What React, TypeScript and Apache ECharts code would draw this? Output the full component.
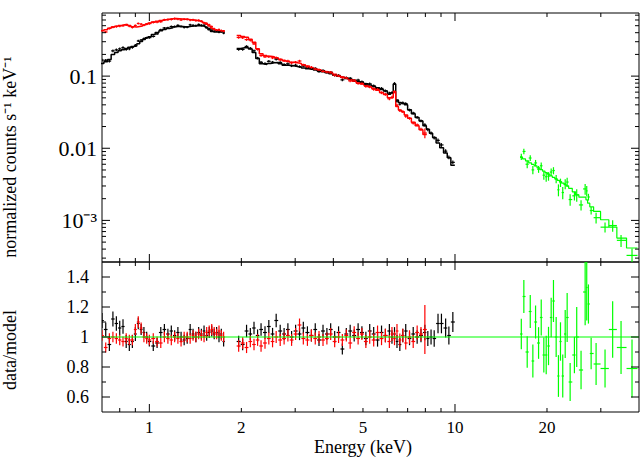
import { useEffect, useRef } from 'react';
import * as echarts from 'echarts';

// ---------- data ----------
// Low-energy segment (keV), shared by black and red spectra
const lowE = [0.70, 0.72, 0.74, 0.76, 0.78, 0.80, 0.82, 0.84, 0.86, 0.88, 0.90, 0.92, 0.94, 0.96, 0.98, 1.00, 1.03, 1.06, 1.09, 1.12, 1.15, 1.18, 1.21, 1.24, 1.27, 1.30, 1.33, 1.36, 1.39, 1.42, 1.45, 1.48, 1.51, 1.54, 1.57, 1.60, 1.63, 1.66, 1.69, 1.72, 1.75];
const blackModelLow = [0.150, 0.158, 0.170, 0.200, 0.212, 0.225, 0.232, 0.242, 0.252, 0.258, 0.262, 0.282, 0.302, 0.322, 0.340, 0.352, 0.378, 0.402, 0.425, 0.443, 0.458, 0.468, 0.482, 0.490, 0.488, 0.485, 0.482, 0.490, 0.496, 0.500, 0.505, 0.497, 0.488, 0.470, 0.440, 0.415, 0.408, 0.410, 0.408, 0.410, 0.405];
const blackRatioLow = [1.11, 1.05, 0.95, 1.12, 1.09, 1.06, 1.07, 0.97, 0.95, 0.97, 1.02, 1.09, 1.05, 1.03, 1.00, 0.97, 0.94, 0.96, 1.03, 1.05, 1.02, 1.04, 1.01, 1.03, 1.00, 0.98, 0.99, 1.05, 1.02, 1.00, 1.03, 1.02, 1.04, 1.01, 1.03, 1.04, 1.02, 1.03, 1.00, 1.02, 0.97];
const blackErrLow = [0.045, 0.045, 0.045, 0.045, 0.045, 0.045, 0.045, 0.045, 0.045, 0.045, 0.045, 0.035, 0.035, 0.035, 0.035, 0.035, 0.035, 0.035, 0.035, 0.035, 0.035, 0.035, 0.035, 0.035, 0.035, 0.035, 0.035, 0.035, 0.035, 0.035, 0.035, 0.035, 0.035, 0.035, 0.035, 0.035, 0.035, 0.035, 0.035, 0.035, 0.035];
const redModelLow = [0.425, 0.440, 0.462, 0.478, 0.492, 0.505, 0.515, 0.518, 0.505, 0.485, 0.480, 0.488, 0.496, 0.510, 0.530, 0.545, 0.562, 0.578, 0.592, 0.605, 0.615, 0.625, 0.628, 0.625, 0.620, 0.615, 0.612, 0.605, 0.598, 0.590, 0.582, 0.570, 0.548, 0.522, 0.495, 0.462, 0.440, 0.428, 0.425, 0.423, 0.422];
const redRatioLow = [1.01, 0.93, 0.99, 1.00, 0.99, 0.98, 0.97, 0.99, 0.98, 0.98, 1.05, 1.10, 1.06, 1.00, 0.99, 0.98, 0.99, 0.97, 0.96, 1.00, 0.99, 0.98, 1.00, 0.99, 0.97, 1.00, 1.00, 0.99, 1.01, 1.00, 1.02, 1.01, 1.00, 1.03, 1.04, 1.05, 1.03, 1.02, 1.04, 1.01, 1.00];
const redErrLow = [0.035, 0.035, 0.035, 0.035, 0.035, 0.035, 0.035, 0.035, 0.035, 0.035, 0.035, 0.035, 0.035, 0.035, 0.035, 0.035, 0.035, 0.035, 0.035, 0.035, 0.035, 0.035, 0.035, 0.035, 0.035, 0.035, 0.035, 0.035, 0.035, 0.035, 0.035, 0.035, 0.035, 0.035, 0.035, 0.035, 0.035, 0.035, 0.035, 0.035, 0.035];

// High-energy segment (keV)
const blackHighE = [1.96, 2.02, 2.08, 2.14, 2.20, 2.26, 2.32, 2.39, 2.46, 2.53, 2.60, 2.68, 2.76, 2.84, 2.92, 3.01, 3.10, 3.19, 3.29, 3.39, 3.49, 3.59, 3.70, 3.81, 3.92, 4.04, 4.16, 4.28, 4.41, 4.54, 4.68, 4.82, 4.96, 5.11, 5.26, 5.42, 5.58, 5.75, 5.92, 6.10, 6.22, 6.34, 6.46, 6.60, 6.75, 6.90, 7.10, 7.30, 7.52, 7.74, 7.97, 8.15, 8.35, 8.55, 8.80, 9.03, 9.32, 9.55, 9.84];
const blackModelHigh = [0.242, 0.247, 0.248, 0.238, 0.212, 0.176, 0.148, 0.145, 0.150, 0.153, 0.155, 0.149, 0.142, 0.141, 0.139, 0.136, 0.133, 0.130, 0.127, 0.125, 0.122, 0.118, 0.115, 0.111, 0.108, 0.103, 0.0995, 0.0965, 0.093, 0.0898, 0.0868, 0.0839, 0.0812, 0.0782, 0.0752, 0.0720, 0.0690, 0.0655, 0.0620, 0.0560, 0.0590, 0.0775, 0.0465, 0.0430, 0.0420, 0.0400, 0.0342, 0.0302, 0.0268, 0.0238, 0.0205, 0.0183, 0.0162, 0.0141, 0.0118, 0.0102, 0.0086, 0.0074, 0.0058];
const blackRatioHigh = [0.97, 0.95, 1.04, 1.02, 1.06, 1.01, 1.05, 1.03, 1.07, 1.02, 1.11, 1.04, 1.02, 1.05, 1.00, 1.04, 1.02, 1.06, 1.03, 1.01, 1.05, 0.98, 1.04, 1.02, 1.05, 1.00, 1.03, 0.92, 1.02, 1.04, 1.01, 1.05, 1.03, 0.99, 1.04, 1.02, 0.98, 1.03, 1.01, 1.04, 1.00, 1.02, 0.97, 0.95, 1.01, 1.04, 0.99, 1.02, 1.00, 1.01, 1.03, 0.99, 1.00, 0.99, 1.09, 1.09, 1.06, 1.01, 1.10];
const blackErrHigh = [0.04, 0.04, 0.04, 0.04, 0.04, 0.04, 0.04, 0.04, 0.04, 0.04, 0.04, 0.04, 0.04, 0.04, 0.04, 0.04, 0.04, 0.04, 0.04, 0.04, 0.04, 0.04, 0.04, 0.04, 0.04, 0.04, 0.04, 0.04, 0.04, 0.04, 0.04, 0.04, 0.04, 0.045, 0.045, 0.045, 0.045, 0.045, 0.045, 0.045, 0.045, 0.045, 0.045, 0.045, 0.045, 0.045, 0.045, 0.045, 0.045, 0.045, 0.05, 0.05, 0.05, 0.055, 0.06, 0.06, 0.06, 0.06, 0.06];
const redHighE = [1.96, 2.02, 2.08, 2.14, 2.20, 2.26, 2.32, 2.39, 2.46, 2.53, 2.60, 2.68, 2.76, 2.84, 2.92, 3.01, 3.10, 3.19, 3.29, 3.39, 3.49, 3.59, 3.70, 3.81, 3.92, 4.04, 4.16, 4.28, 4.41, 4.54, 4.68, 4.82, 4.96, 5.11, 5.26, 5.42, 5.58, 5.75, 5.92, 6.10, 6.22, 6.34, 6.46, 6.60, 6.75, 6.90, 7.10, 7.30, 7.52, 7.74, 7.97];
const redModelHigh = [0.365, 0.355, 0.345, 0.325, 0.295, 0.240, 0.205, 0.193, 0.188, 0.185, 0.180, 0.172, 0.165, 0.160, 0.156, 0.153, 0.150, 0.144, 0.138, 0.131, 0.127, 0.123, 0.119, 0.115, 0.111, 0.106, 0.101, 0.0975, 0.0935, 0.0895, 0.0850, 0.0800, 0.0775, 0.0745, 0.0712, 0.0672, 0.0635, 0.0595, 0.0555, 0.0500, 0.0500, 0.0610, 0.0380, 0.0340, 0.0320, 0.0290, 0.0260, 0.0230, 0.0205, 0.0180, 0.0155];
const redRatioHigh = [0.94, 0.96, 0.93, 0.97, 0.95, 0.98, 0.94, 0.96, 0.99, 0.97, 1.00, 0.98, 0.99, 1.01, 0.98, 1.02, 1.08, 0.99, 0.98, 1.01, 0.99, 1.00, 0.98, 0.99, 1.02, 0.97, 1.00, 0.98, 1.01, 0.96, 1.03, 0.99, 1.02, 0.97, 1.00, 0.98, 1.03, 0.99, 1.01, 0.97, 1.02, 0.99, 1.04, 0.98, 1.01, 0.96, 1.00, 0.97, 1.03, 1.02, 1.05];
const redErrHigh = [0.04, 0.04, 0.04, 0.04, 0.04, 0.04, 0.04, 0.04, 0.04, 0.04, 0.04, 0.04, 0.04, 0.04, 0.04, 0.04, 0.04, 0.04, 0.04, 0.04, 0.04, 0.04, 0.04, 0.04, 0.04, 0.04, 0.04, 0.04, 0.04, 0.04, 0.04, 0.04, 0.04, 0.045, 0.045, 0.045, 0.045, 0.045, 0.045, 0.045, 0.045, 0.045, 0.045, 0.045, 0.045, 0.045, 0.045, 0.045, 0.045, 0.045, 0.155];

// Hard X-ray segment (green)
const greenE = [16.48, 16.80, 17.23, 17.63, 17.98, 18.35, 18.77, 19.15, 19.53, 19.88, 20.23, 20.64, 21.00, 21.43, 21.80, 22.14, 22.52, 22.94, 23.28, 23.81, 24.59, 25.02, 25.85, 26.66, 26.98, 27.33, 27.89, 28.95, 30.97, 32.80, 34.94, 37.95];
const greenModel = [0.00746, 0.00711, 0.00667, 0.00626, 0.00597, 0.00569, 0.00534, 0.00506, 0.00481, 0.00458, 0.00437, 0.00414, 0.00396, 0.00376, 0.00359, 0.00345, 0.00329, 0.00314, 0.00301, 0.00278, 0.00249, 0.00226, 0.00210, 0.00210, 0.00193, 0.00173, 0.00154, 0.00133, 0.00102, 0.000808, 0.000569, 0.000414];
const greenRatio = [1.02, 1.27, 0.90, 1.17, 0.84, 1.10, 0.96, 1.13, 0.88, 0.88, 0.94, 1.13, 1.24, 1.00, 0.74, 0.97, 0.74, 1.02, 1.13, 0.70, 0.88, 1.00, 0.78, 1.30, 1.33, 1.22, 0.89, 0.82, 0.79, 1.05, 0.93, 0.79];
const greenErr = [0.10, 0.087, 0.117, 0.094, 0.13, 0.10, 0.11, 0.106, 0.133, 0.146, 0.136, 0.117, 0.113, 0.133, 0.188, 0.132, 0.194, 0.157, 0.144, 0.182, 0.138, 0.20, 0.165, 0.17, 0.165, 0.107, 0.118, 0.17, 0.16, 0.18, 0.19, 0.245];

// Axes / ticks
const xMin = 0.7, xMax = 40;
const topYMin = 2.65e-4, topYMax = 0.75;
const botYMin = 0.5, botYMax = 1.5;
const xTicks = [0.8, 0.9, 1, 2, 3, 4, 5, 6, 7, 8, 9, 10, 20, 30];
const xMajorTicks = [1, 10];
const xLabelValues = [1, 2, 5, 10, 20];
const xLabelTexts = ['1', '2', '5', '10', '20'];
const topYMajorTicks = [0.001, 0.01, 0.1];
const topYMinorTicks = [0.0003, 0.0004, 0.0005, 0.0006, 0.0007, 0.0008, 0.0009, 0.002, 0.003, 0.004, 0.005, 0.006, 0.007, 0.008, 0.009, 0.02, 0.03, 0.04, 0.05, 0.06, 0.07, 0.08, 0.09, 0.2, 0.3, 0.4, 0.5, 0.6, 0.7];
const topYLabelValues = [0.001, 0.01, 0.1];
const topYLabelTexts = ['10⁻³', '0.01', '0.1'];
const botYMajorTicks = [0.6, 0.8, 1.0, 1.2, 1.4];
const botYMinorTicks = [0.7, 0.9, 1.1, 1.3];
const botYLabelValues = [0.6, 0.8, 1.0, 1.2, 1.4];
const botYLabelTexts = ['0.6', '0.8', '1', '1.2', '1.4'];

const FONT = '"Liberation Serif", "Times New Roman", serif';
const BLACK = '#000000';
const RED = '#ff0000';
const GREEN = '#00ff00';

// ---------- helpers ----------
function binEdges(E: number[]) {
  const lo: number[] = [];
  const hi: number[] = [];
  for (let i = 0; i < E.length; i++) {
    const l = i > 0 ? Math.sqrt(E[i - 1] * E[i]) : (E[0] * E[0]) / Math.sqrt(E[0] * E[1]);
    const h = i < E.length - 1 ? Math.sqrt(E[i] * E[i + 1]) : (E[i] * E[i]) / Math.sqrt(E[i - 1] * E[i]);
    lo.push(l);
    hi.push(h);
  }
  return { lo, hi };
}

function fluxCrosses(E: number[], model: number[], ratio: number[], err: number[]) {
  const { lo, hi } = binEdges(E);
  return E.map((e, i) => {
    const c = model[i] * ratio[i];
    const d = c * err[i];
    return [e, c, c - d, c + d, lo[i], hi[i]];
  });
}

function ratioCrosses(E: number[], ratio: number[], err: number[]) {
  const { lo, hi } = binEdges(E);
  return E.map((e, i) => {
    const c = ratio[i];
    const d = c * err[i];
    return [e, c, c - d, c + d, lo[i], hi[i]];
  });
}

function histogram(E: number[], model: number[]) {
  const { lo, hi } = binEdges(E);
  const pts: number[][] = [];
  E.forEach((_, i) => {
    pts.push([lo[i], model[i]]);
    pts.push([hi[i], model[i]]);
  });
  return pts;
}

function crossSeries(data: number[][], color: string, idx: number, width: number) {
  return {
    type: 'custom',
    xAxisIndex: idx,
    yAxisIndex: idx,
    clip: true,
    silent: true,
    z: 3,
    encode: { x: 0, y: 1 },
    data,
    renderItem: (_params: any, api: any) => {
      const e = api.value(0), c = api.value(1), yl = api.value(2), yh = api.value(3), el = api.value(4), eh = api.value(5);
      const pc = api.coord([e, c]);
      const pl = api.coord([el, c]);
      const ph = api.coord([eh, c]);
      const pyl = api.coord([e, yl]);
      const pyh = api.coord([e, yh]);
      return {
        type: 'group',
        children: [
          { type: 'line', shape: { x1: pl[0], y1: pc[1], x2: ph[0], y2: pc[1] }, style: { stroke: color, lineWidth: width } },
          { type: 'line', shape: { x1: pc[0], y1: pyl[1], x2: pc[0], y2: pyh[1] }, style: { stroke: color, lineWidth: width } },
        ],
      };
    },
  };
}

function histSeries(data: number[][], color: string, width: number) {
  return {
    type: 'line',
    xAxisIndex: 0,
    yAxisIndex: 0,
    data,
    showSymbol: false,
    symbol: 'none',
    silent: true,
    clip: true,
    z: 2,
    lineStyle: { color, width },
    itemStyle: { color },
  };
}

function tickLine(x1: number, y1: number, x2: number, y2: number) {
  return { type: 'line', shape: { x1, y1, x2, y2 }, style: { stroke: BLACK, lineWidth: 1 } };
}

function ticksSeries(idx: number, yMajor: number[], yMinor: number[], withLabels: boolean, anchorY: number) {
  return {
    type: 'custom',
    xAxisIndex: idx,
    yAxisIndex: idx,
    silent: true,
    z: 10,
    data: [[1, anchorY]],
    renderItem: (params: any, api: any) => {
      const cs = params.coordSys;
      const x0 = cs.x, x1 = cs.x + cs.width, y0 = cs.y, y1 = cs.y + cs.height;
      const children: any[] = [];
      xTicks.forEach((t) => {
        const px = api.coord([t, anchorY])[0];
        const len = xMajorTicks.indexOf(t) >= 0 ? 8 : 4;
        children.push(tickLine(px, y0, px, y0 + len));
        children.push(tickLine(px, y1, px, y1 - len));
      });
      yMajor.forEach((v) => {
        const py = api.coord([1, v])[1];
        children.push(tickLine(x0, py, x0 + 8, py));
        children.push(tickLine(x1, py, x1 - 8, py));
      });
      yMinor.forEach((v) => {
        const py = api.coord([1, v])[1];
        children.push(tickLine(x0, py, x0 + 4, py));
        children.push(tickLine(x1, py, x1 - 4, py));
      });
      if (withLabels) {
        xLabelValues.forEach((v, i) => {
          const px = api.coord([v, anchorY])[0];
          children.push({
            type: 'text',
            x: px,
            y: y1 + 15,
            style: {
              text: xLabelTexts[i],
              fill: BLACK,
              font: `17px ${FONT}`,
              align: 'center',
              verticalAlign: 'middle',
              textAlign: 'center',
              textVerticalAlign: 'middle',
            },
          });
        });
      }
      return { type: 'group', children };
    },
  };
}

function matchLabel(v: number, values: number[], texts: string[], log: boolean) {
  for (let i = 0; i < values.length; i++) {
    const d = log ? Math.abs(Math.log10(v) - Math.log10(values[i])) : Math.abs(v - values[i]);
    if (d < 1e-6) return texts[i];
  }
  return '';
}

export default function App() {
  const ref = useRef<HTMLDivElement>(null);

  useEffect(() => {
    if (!ref.current) return;
    const chart = echarts.init(ref.current, undefined, { renderer: 'svg' });

    const baseX = (gridIndex: number) => ({
      type: 'log',
      logBase: 10,
      gridIndex,
      min: xMin,
      max: xMax,
      axisLine: { show: false },
      axisTick: { show: false },
      axisLabel: { show: false },
      splitLine: { show: false },
      minorTick: { show: false },
    });

    const option: any = {
      animation: false,
      backgroundColor: '#ffffff',
      grid: [
        { left: 102, top: 13, width: 537, height: 249, show: true, borderColor: BLACK, borderWidth: 1, backgroundColor: 'transparent', outerBoundsMode: 'none', containLabel: false },
        { left: 102, top: 262, width: 537, height: 150, show: true, borderColor: BLACK, borderWidth: 1, backgroundColor: 'transparent', outerBoundsMode: 'none', containLabel: false },
      ],
      xAxis: [baseX(0), baseX(1)],
      yAxis: [
        {
          type: 'log',
          logBase: 10,
          gridIndex: 0,
          min: topYMin,
          max: topYMax,
          axisLine: { show: false },
          axisTick: { show: false },
          splitLine: { show: false },
          minorTick: { show: false },
          axisLabel: {
            show: true,
            margin: 5,
            color: BLACK,
            fontFamily: FONT,
            fontSize: 22,
            formatter: (v: number) => matchLabel(v, topYLabelValues, topYLabelTexts, true),
          },
        },
        {
          type: 'value',
          gridIndex: 1,
          min: botYMin,
          max: botYMax,
          interval: 0.1,
          axisLine: { show: false },
          axisTick: { show: false },
          splitLine: { show: false },
          minorTick: { show: false },
          axisLabel: {
            show: true,
            margin: 13,
            color: BLACK,
            fontFamily: FONT,
            fontSize: 18,
            formatter: (v: number) => matchLabel(v, botYLabelValues, botYLabelTexts, false),
          },
        },
      ],
      graphic: [
        {
          type: 'text',
          x: 10,
          y: 157,
          rotation: Math.PI / 2,
          style: { text: 'normalized counts s⁻¹ keV⁻¹', fill: BLACK, font: `18px ${FONT}`, textAlign: 'center', textVerticalAlign: 'middle', align: 'center', verticalAlign: 'middle' },
        },
        {
          type: 'text',
          x: 10,
          y: 350,
          rotation: Math.PI / 2,
          style: { text: 'data/model', fill: BLACK, font: `18px ${FONT}`, textAlign: 'center', textVerticalAlign: 'middle', align: 'center', verticalAlign: 'middle' },
        },
        {
          type: 'text',
          x: 363,
          y: 447,
          style: { text: 'Energy (keV)', fill: BLACK, font: `18px ${FONT}`, textAlign: 'center', textVerticalAlign: 'middle', align: 'center', verticalAlign: 'middle' },
        },
      ],
      series: [
        histSeries(histogram(lowE, blackModelLow), BLACK, 1.5),
        histSeries(histogram(blackHighE, blackModelHigh), BLACK, 1.5),
        histSeries(histogram(lowE, redModelLow), RED, 1.5),
        histSeries(histogram(redHighE, redModelHigh), RED, 1.5),
        histSeries(histogram(greenE, greenModel), GREEN, 1.2),
        crossSeries(
          fluxCrosses(lowE, blackModelLow, blackRatioLow, blackErrLow).concat(fluxCrosses(blackHighE, blackModelHigh, blackRatioHigh, blackErrHigh)),
          BLACK,
          0,
          1.2,
        ),
        crossSeries(
          fluxCrosses(lowE, redModelLow, redRatioLow, redErrLow).concat(fluxCrosses(redHighE, redModelHigh, redRatioHigh, redErrHigh)),
          RED,
          0,
          1.2,
        ),
        crossSeries(fluxCrosses(greenE, greenModel, greenRatio, greenErr), GREEN, 0, 1.2),
        {
          type: 'line',
          xAxisIndex: 1,
          yAxisIndex: 1,
          data: [[xMin, 1], [xMax, 1]],
          showSymbol: false,
          symbol: 'none',
          silent: true,
          z: 4,
          lineStyle: { color: GREEN, width: 1.2 },
        },
        crossSeries(ratioCrosses(lowE, blackRatioLow, blackErrLow).concat(ratioCrosses(blackHighE, blackRatioHigh, blackErrHigh)), BLACK, 1, 1.2),
        crossSeries(ratioCrosses(lowE, redRatioLow, redErrLow).concat(ratioCrosses(redHighE, redRatioHigh, redErrHigh)), RED, 1, 1.2),
        crossSeries(ratioCrosses(greenE, greenRatio, greenErr), GREEN, 1, 1.2),
        ticksSeries(0, topYMajorTicks, topYMinorTicks, false, 0.1),
        ticksSeries(1, botYMajorTicks, botYMinorTicks, true, 1),
      ],
    };

    chart.setOption(option);
    return () => {
      chart.dispose();
    };
  }, []);

  return <div ref={ref} style={{ position: 'fixed', left: 0, top: 0, width: 641, height: 457 }} />;
}
